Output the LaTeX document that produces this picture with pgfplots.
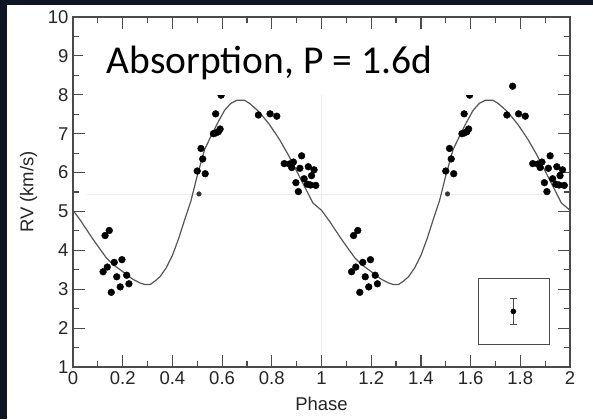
\documentclass[border=0pt]{standalone}
\usepackage{pgfplots}
\pgfplotsset{compat=1.18}
\usepackage{fontspec}
\setmainfont{Liberation Sans}
\newfontfamily\calibri[Ligatures={Common,Rare,Discretionary}]{Carlito}
\definecolor{slidebg}{HTML}{0E1626}
\definecolor{axgray}{HTML}{4A4A4A}
\definecolor{curvegray}{HTML}{555555}
\definecolor{faint}{HTML}{EDEDED}

\pgfplotstableread{
phase rv
0.121 3.45
0.129 4.38
0.138 3.57
0.146 4.51
0.154 2.92
0.166 3.69
0.176 3.32
0.190 3.06
0.197 3.76
0.216 3.36
0.225 3.14
0.500 6.04
0.515 6.62
0.522 6.35
0.532 5.97
0.565 7.00
0.575 7.02
0.585 7.05
0.592 7.12
0.574 7.51
0.596 7.99
0.746 7.48
0.769 8.22
0.793 7.51
0.820 7.45
0.850 6.23
0.871 6.22
0.880 6.13
0.887 6.27
0.897 5.74
0.907 5.51
0.913 6.11
0.920 6.43
0.930 5.84
0.943 5.70
0.947 6.15
0.956 5.68
0.960 5.92
0.970 6.07
0.977 5.67
1.121 3.45
1.129 4.38
1.138 3.57
1.146 4.51
1.154 2.92
1.166 3.69
1.176 3.32
1.190 3.06
1.197 3.76
1.216 3.36
1.225 3.14
1.500 6.04
1.515 6.62
1.522 6.35
1.532 5.97
1.565 7.00
1.575 7.02
1.585 7.05
1.592 7.12
1.574 7.51
1.596 7.99
1.746 7.48
1.769 8.22
1.793 7.51
1.820 7.45
1.850 6.23
1.871 6.22
1.880 6.13
1.887 6.27
1.897 5.74
1.907 5.51
1.913 6.11
1.920 6.43
1.930 5.84
1.943 5.70
1.947 6.15
1.956 5.68
1.960 5.92
1.970 6.07
1.977 5.67
}\obsdata

\pgfplotstableread{
phase rv
0.507 5.45
1.507 5.45
}\smalldata

\pgfplotstableread{
phase rv
0.000 5.03
0.030 4.77
0.055 4.53
0.080 4.29
0.110 4.02
0.135 3.80
0.160 3.64
0.190 3.50
0.215 3.38
0.240 3.26
0.270 3.16
0.290 3.12
0.310 3.12
0.330 3.21
0.350 3.32
0.375 3.55
0.400 3.87
0.425 4.30
0.450 4.80
0.475 5.28
0.500 5.92
0.530 6.60
0.558 6.97
0.585 7.31
0.610 7.60
0.635 7.78
0.660 7.86
0.690 7.86
0.710 7.78
0.730 7.67
0.750 7.55
0.790 7.24
0.830 6.86
0.865 6.47
0.900 6.04
0.935 5.60
0.965 5.22
1.000 5.03
1.030 4.77
1.055 4.53
1.080 4.29
1.110 4.02
1.135 3.80
1.160 3.64
1.190 3.50
1.215 3.38
1.240 3.26
1.270 3.16
1.290 3.12
1.310 3.12
1.330 3.21
1.350 3.32
1.375 3.55
1.400 3.87
1.425 4.30
1.450 4.80
1.475 5.28
1.500 5.92
1.530 6.60
1.558 6.97
1.585 7.31
1.610 7.60
1.635 7.78
1.660 7.86
1.690 7.86
1.710 7.78
1.730 7.67
1.750 7.55
1.790 7.24
1.830 6.86
1.865 6.47
1.900 6.04
1.935 5.60
1.965 5.22
2.000 5.03
}\modeldata

\begin{document}
\begin{tikzpicture}[x=1bp,y=1bp]
\useasboundingbox (0,0) rectangle (593,419);
\fill[slidebg] (0,0) rectangle (593,419);
\fill[white] (7,0) rectangle (593,414);
\begin{axis}[
  at={(73bp,52bp)}, anchor=south west,
  scale only axis, width=497bp, height=350bp,
  xmin=0, xmax=2, ymin=1, ymax=10,
  xtick={0,0.2,0.4,0.6,0.8,1,1.2,1.4,1.6,1.8,2},
  xticklabels={0,0.2,0.4,0.6,0.8,1,1.2,1.4,1.6,1.8,2},
  ytick={1,2,3,4,5,6,7,8,9,10},
  yticklabels={1,2,3,4,5,6,7,8,9,10},
  minor x tick num=1, minor y tick num=1,
  tick align=inside,
  major tick length=12bp, minor tick length=6bp,
  axis line style={axgray, line width=1.4bp},
  every tick/.style={axgray, line width=1.2bp},
  tick label style={font=\fontsize{18.5bp}{20bp}\selectfont, text=black!85},
  xticklabel style={yshift=-1bp},
  yticklabel style={xshift=-1bp},
  xlabel={Phase}, ylabel={RV (km/s)},
  every axis x label/.style={at={(axis description cs:0.5,-0.106)}, anchor=center, font=\fontsize{18.5bp}{20bp}\selectfont, text=black!85},
  every axis y label/.style={at={(axis description cs:-0.0895,0.5)}, rotate=90, anchor=center, font=\fontsize{18.5bp}{20bp}\selectfont, text=black!85},
]
\draw[faint, line width=0.8bp] (axis cs:0.055,5.43) -- (axis cs:1.91,5.43);
\draw[faint, line width=0.8bp] (axis cs:1,1.35) -- (axis cs:1,8.1);
\addplot[curvegray, line width=1.2bp, no marks] table[x=phase, y=rv] {\modeldata};
\addplot[only marks, mark=*, mark size=3.4bp, black] table[x=phase, y=rv] {\obsdata};
\addplot[only marks, mark=*, mark size=2.3bp, black!80] table[x=phase, y=rv] {\smalldata};
\draw[axgray, line width=1.3bp] (axis cs:1.631,1.58) rectangle (axis cs:1.917,3.27);
\addplot[only marks, mark=*, mark size=2.6bp, black,
  error bars/.cd, y dir=both, y explicit,
  error bar style={axgray, line width=1.1bp},
  error mark options={rotate=90, mark size=3.5bp, axgray, line width=1.1bp}]
  coordinates {(1.772,2.43) +- (0,0.34)};
\end{axis}
\fill[white] (83,324) rectangle (495,389);
\node[anchor=base west, inner sep=0, text=black] at (106.7,345.7) {\calibri\fontsize{39.5bp}{42bp}\selectfont Absorption, P = 1.6d};
\end{tikzpicture}
\end{document}
